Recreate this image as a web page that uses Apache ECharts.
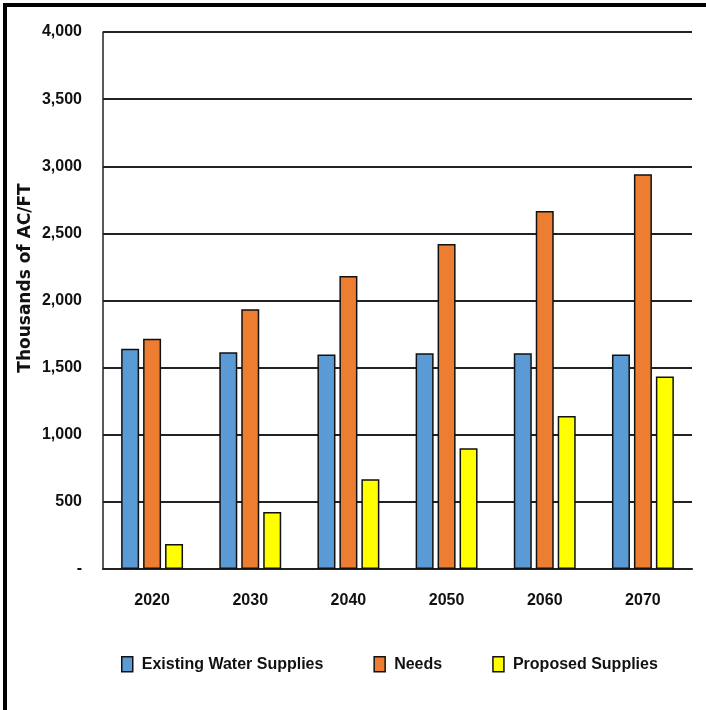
<!DOCTYPE html>
<html>
<head>
<meta charset="utf-8">
<script src="https://cdn.jsdelivr.net/npm/echarts@6/dist/echarts.min.js"></script>
<style>
  html, body { margin: 0; padding: 0; background: #fff; }
  #chart { width: 706px; height: 710px; }
</style>
</head>
<body>
<div id="chart"></div>
<script>
// Decades on the horizontal axis
const years = ['2020', '2030', '2040', '2050', '2060', '2070'];
// Volumes in thousands of acre-feet
const existingSupplies = [1640, 1615, 1598, 1607, 1607, 1597];
const needs = [1715, 1935, 2183, 2421, 2667, 2940];
const proposedSupplies = [186, 425, 668, 899, 1140, 1433];
const seriesNames = ['Existing Water Supplies', 'Needs', 'Proposed Supplies'];
const yTicks = { min: 0, max: 4000, step: 500 };
const yTitle = 'Thousands of AC/FT';

const sans = '"Liberation Sans", Arial, sans-serif';
const colors = ['#5B9BD5', '#ED7D31', '#FFFF00'];

function fmt(v) {
  if (v === 0) return '-';
  return v.toLocaleString('en-US');
}

const chart = echarts.init(document.getElementById('chart'));
const barStyle = (c) => ({ color: c, borderColor: '#111', borderWidth: 1.5 });

chart.setOption({
  animation: false,
  backgroundColor: '#fff',
  color: colors,
  grid: { left: 103, right: 14, top: 32, bottom: 141 },
  legend: {
    left: 116,
    top: 651,
    itemWidth: 11,
    itemHeight: 15,
    itemGap: 50,
    icon: 'rect',
    itemStyle: { borderColor: '#111', borderWidth: 1.5 },
    textStyle: { fontFamily: sans, fontWeight: 'bold', fontSize: 16, color: '#111', padding: [0, 0, 0, 4] },
    data: seriesNames
  },
  xAxis: {
    type: 'category',
    data: years,
    axisLine: { lineStyle: { color: '#222', width: 2 } },
    axisTick: { show: false },
    axisLabel: { fontFamily: sans, fontWeight: 'bold', fontSize: 16, color: '#111', margin: 24 }
  },
  yAxis: {
    type: 'value',
    min: yTicks.min,
    max: yTicks.max,
    interval: yTicks.step,
    axisLine: { show: true, lineStyle: { color: '#222', width: 1.5 } },
    axisTick: { show: false },
    splitLine: { lineStyle: { color: '#222', width: 2 } },
    axisLabel: { formatter: fmt, fontFamily: sans, fontWeight: 'bold', fontSize: 16, color: '#111', margin: 21 }
  },
  series: [
    { name: seriesNames[0], type: 'bar', data: existingSupplies, barWidth: 18, barGap: '22%', itemStyle: barStyle(colors[0]) },
    { name: seriesNames[1], type: 'bar', data: needs, barWidth: 18, barGap: '22%', itemStyle: barStyle(colors[1]) },
    { name: seriesNames[2], type: 'bar', data: proposedSupplies, barWidth: 18, barGap: '22%', itemStyle: barStyle(colors[2]) }
  ],
  graphic: [
    // vertical axis title
    {
      type: 'text', x: 26, y: 278, rotation: Math.PI / 2,
      style: {
        text: yTitle, align: 'center', verticalAlign: 'middle',
        font: 'bold 17px "DejaVu Sans", sans-serif', fill: '#111'
      }
    },
    // frame edges along the top and left
    { type: 'line', shape: { x1: 3, y1: 5, x2: 706, y2: 5 }, style: { stroke: '#000', lineWidth: 4 } },
    { type: 'line', shape: { x1: 5, y1: 3, x2: 5, y2: 710 }, style: { stroke: '#000', lineWidth: 4 } }
  ]
});
</script>
</body>
</html>
